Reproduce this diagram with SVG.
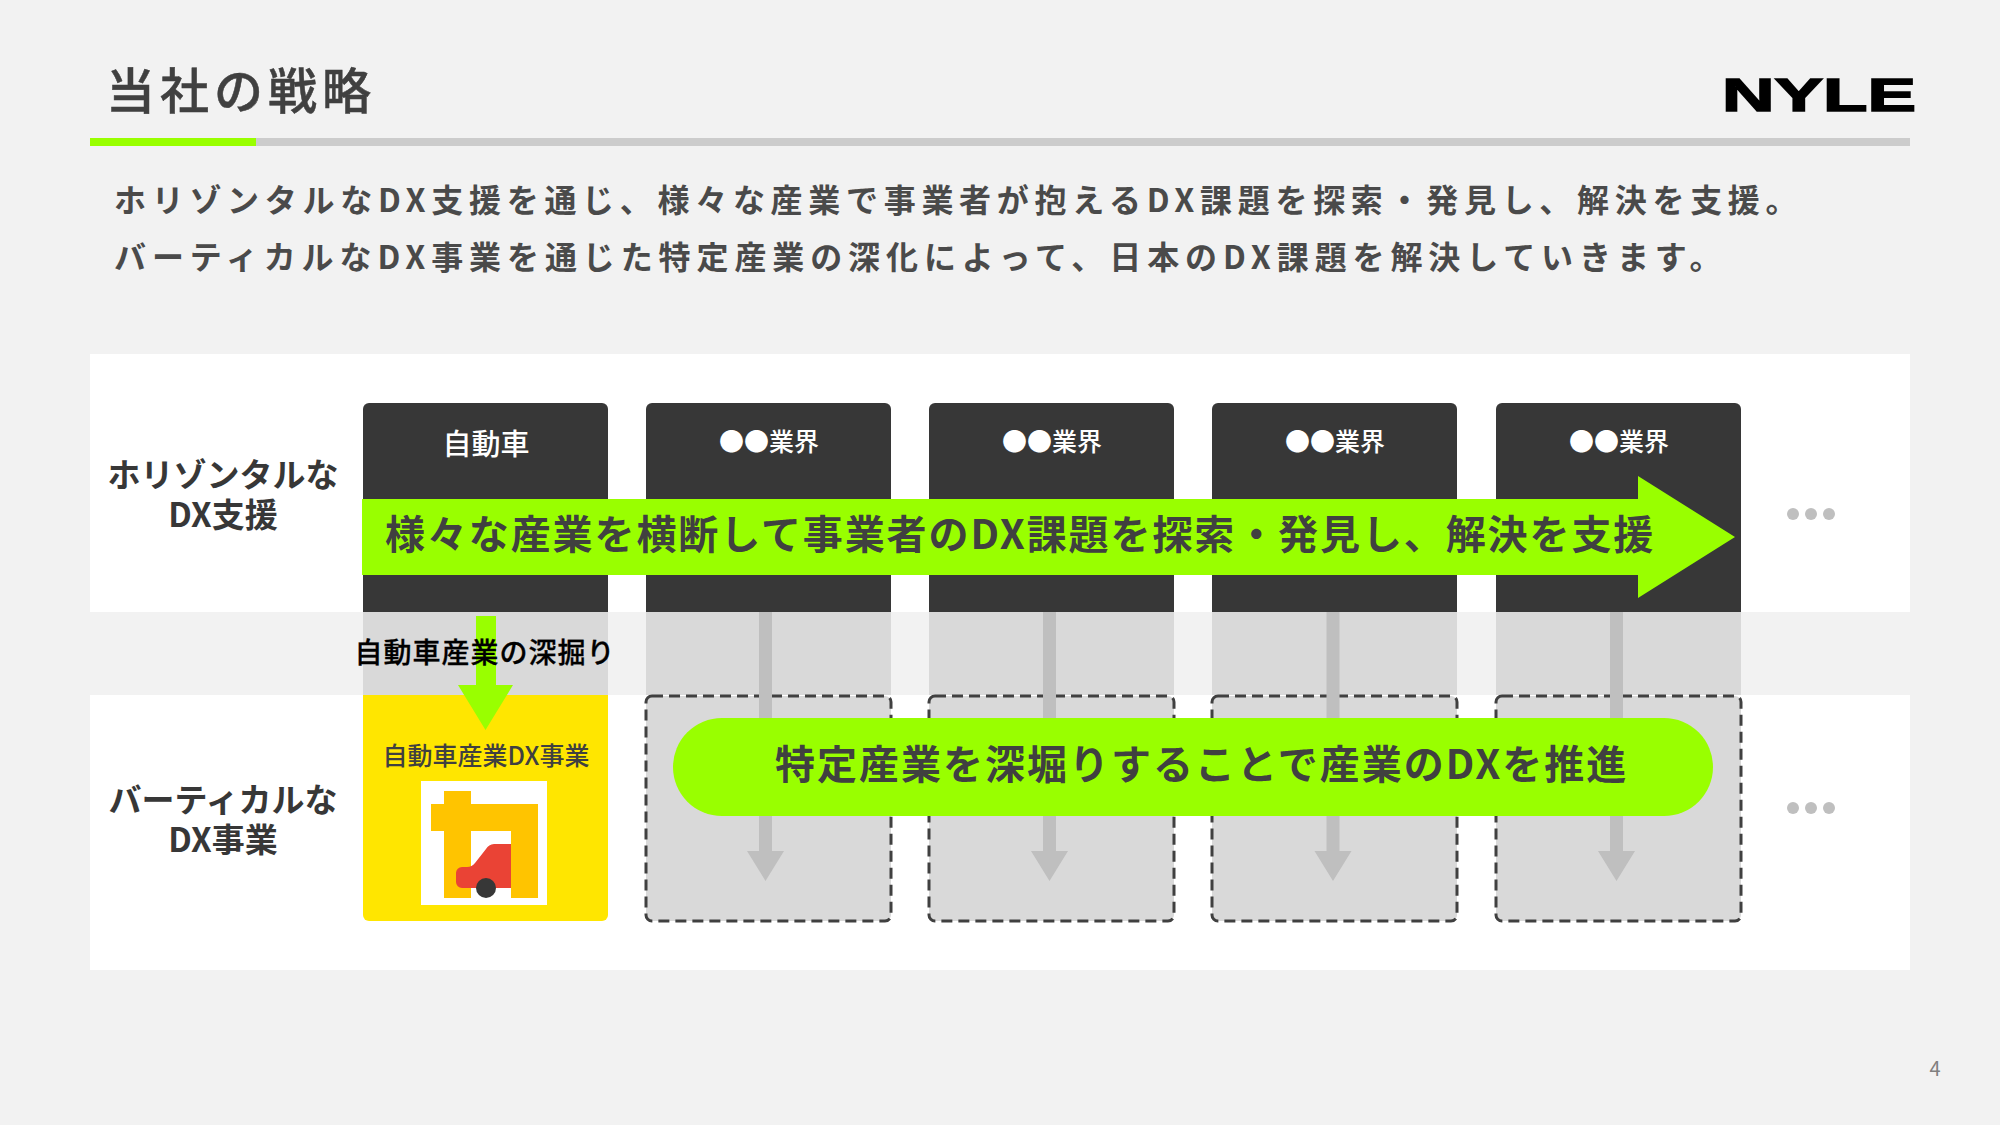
<svg xmlns="http://www.w3.org/2000/svg" width="2000" height="1125" viewBox="0 0 2000 1125">
<style>
text{font-family:"Noto Sans CJK JP","Noto Sans",sans-serif;fill:#404040}
.m{font-weight:500}.b{font-weight:700}.c{text-anchor:middle}
.lead{font-size:32px;font-weight:700;fill:#4a4a4a}
.side{font-size:33px;font-weight:700;text-anchor:middle;fill:#373737}
.dark{fill:#373737}.cell{fill:#d9d9d9}
.dash{fill:#d9d9d9;stroke:#404040;stroke-width:3;stroke-dasharray:11 6}
.hd{font-size:25px;font-weight:500;fill:#fff;text-anchor:middle}
.ga{fill:#bfbfbf}.g{fill:#99ff00}.dot{fill:#bfbfbf}
</style>
<rect width="2000" height="1125" fill="#f2f2f2"/>
<g id="header">
<text x="106" y="109" class="m" font-size="49" letter-spacing="5" stroke="#404040" stroke-width="0.500">当社の戦略</text>
<rect x="90" y="138" width="1820" height="8" fill="#cccccc"/>
<rect x="90" y="138" width="166" height="8" fill="#99ff00"/>
<text x="1722" y="110.500" font-size="47" font-weight="700" textLength="194" lengthAdjust="spacingAndGlyphs" stroke="#000" stroke-width="1.500" style="font-family:'Liberation Sans',sans-serif;fill:#000">NYLE</text>
</g>
<g id="lead">
<text x="114" y="212" class="lead" letter-spacing="5.700">ホリゾンタルなDX支援を通じ、様々な産業で事業者が抱えるDX課題を探索・発見し、解決を支援。</text>
<text x="114" y="269" class="lead" letter-spacing="5.900">バーティカルなDX事業を通じた特定産業の深化によって、日本のDX課題を解決していきます。</text>
</g>
<g id="panels">
<rect x="90" y="354" width="1820" height="258" fill="#fff"/>
<rect x="90" y="695" width="1820" height="275" fill="#fff"/>
</g>
<g id="label-horizontal">
<text class="side"><tspan x="223" y="486.500">ホリゾンタルな</tspan><tspan x="223" y="526.500">DX支援</tspan></text>
</g>
<g id="label-vertical">
<text class="side"><tspan x="223" y="811.500">バーティカルな</tspan><tspan x="223" y="851.500">DX事業</tspan></text>
</g>
<g id="col-auto">
<path class="dark" d="M363 612V409a6 6 0 0 1 6-6H602a6 6 0 0 1 6 6V612Z"/>
<rect class="cell" x="363" y="612" width="245" height="83"/>
<text x="486" y="455" class="m c" font-size="29" style="fill:#fff">自動車</text>
</g>
<g id="col-2">
<path class="dark" d="M646 612V409a6 6 0 0 1 6-6H885a6 6 0 0 1 6 6V612Z"/>
<rect class="cell" x="646" y="612" width="245" height="83"/>
<rect class="dash" x="646" y="696" width="245" height="225" rx="6"/>
<text x="769" y="451" class="hd">●●業界</text>
</g>
<g id="col-3">
<path class="dark" d="M929 612V409a6 6 0 0 1 6-6H1168a6 6 0 0 1 6 6V612Z"/>
<rect class="cell" x="929" y="612" width="245" height="83"/>
<rect class="dash" x="929" y="696" width="245" height="225" rx="6"/>
<text x="1052" y="451" class="hd">●●業界</text>
</g>
<g id="col-4">
<path class="dark" d="M1212 612V409a6 6 0 0 1 6-6H1451a6 6 0 0 1 6 6V612Z"/>
<rect class="cell" x="1212" y="612" width="245" height="83"/>
<rect class="dash" x="1212" y="696" width="245" height="225" rx="6"/>
<text x="1335" y="451" class="hd">●●業界</text>
</g>
<g id="col-5">
<path class="dark" d="M1496 612V409a6 6 0 0 1 6-6H1735a6 6 0 0 1 6 6V612Z"/>
<rect class="cell" x="1496" y="612" width="245" height="83"/>
<rect class="dash" x="1496" y="696" width="245" height="225" rx="6"/>
<text x="1619" y="451" class="hd">●●業界</text>
</g>
<g id="connectors">
<path class="ga" d="M759 612h13v239h12l-18.500 30-18.500-30h12Z"/>
<path class="ga" d="M1043 612h13v239h12l-18.500 30-18.500-30h12Z"/>
<path class="ga" d="M1326.500 612h13v239h12l-18.500 30-18.500-30h12Z"/>
<path class="ga" d="M1610 612h13v239h12l-18.500 30-18.500-30h12Z"/>
</g>
<g id="card-auto">
<path fill="#ffe600" d="M363 695H608V915a6 6 0 0 1-6 6H369a6 6 0 0 1-6-6Z"/>
<text x="486" y="765" class="m c" font-size="25" style="fill:#404040">自動車産業DX事業</text>
<rect x="421" y="781" width="126" height="124" fill="#fff"/>
<path fill="#ffc400" d="M444 791h27v13h67v94h-27V831H471v67H444V831H431V804h13Z"/>
<path fill="#ea4335" d="M511 844H494a10 10 0 0 0-8 5l-11 14a10 10 0 0 1-8 4H462a6 6 0 0 0-6 6v9a6 6 0 0 0 6 6H511Z"/>
<circle cx="486" cy="888" r="10" fill="#373737"/>
</g>
<g id="arrow-auto">
<path class="g" d="M476 616h20v69h17l-27.500 45-27.500-45h18Z"/>
<text x="485" y="663" class="m c" font-size="28" letter-spacing="1" stroke="#000" stroke-width="0.300" style="fill:#000">自動車産業の深掘り</text>
</g>
<g id="banner">
<path class="g" d="M362 499H1638V476L1735 537 1638 598V575H362Z"/>
<text x="385" y="549" class="b" font-size="40" letter-spacing="1.900">様々な産業を横断して事業者のDX課題を探索・発見し、解決を支援</text>
</g>
<g id="pill">
<rect class="g" x="673" y="718" width="1040" height="98" rx="49"/>
<text x="775" y="779" class="b" font-size="40" letter-spacing="2">特定産業を深堀りすることで産業のDXを推進</text>
</g>
<g id="more-top">
<circle class="dot" cx="1793" cy="514" r="6"/><circle class="dot" cx="1811" cy="514" r="6"/><circle class="dot" cx="1829" cy="514" r="6"/>
</g>
<g id="more-bottom">
<circle class="dot" cx="1793" cy="808" r="6"/><circle class="dot" cx="1811" cy="808" r="6"/><circle class="dot" cx="1829" cy="808" r="6"/>
</g>
<text x="1935" y="1076" class="c" font-size="20" style="fill:#808080">4</text>
</svg>
